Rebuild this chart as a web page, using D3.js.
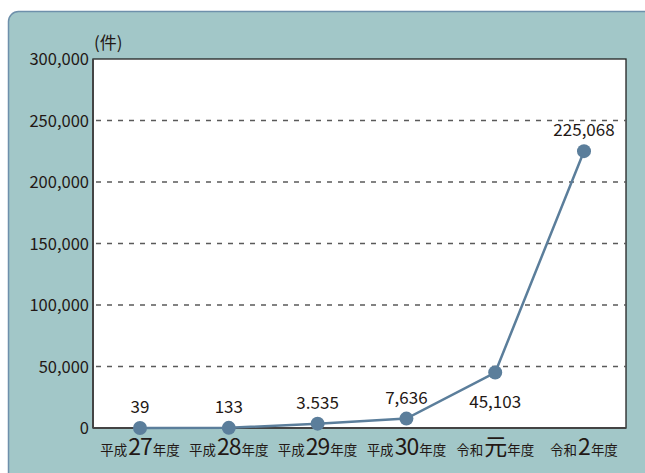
<!DOCTYPE html>
<html>
<head>
<meta charset="utf-8">
<script src="https://cdn.jsdelivr.net/npm/d3@7"></script>
<style>
  body { margin: 0; background: #fff; }
  svg { display: block; font-family: "Noto Sans CJK JP", "Noto Sans", sans-serif; }
</style>
</head>
<body>
<div id="chart"></div>
<script>
const eras = ['平成', '平成', '平成', '平成', '令和', '令和'];
const yearNums = ['27', '28', '29', '30', '元', '2'];
const counts = [39, 133, 3535, 7636, 45103, 225068];
const valueLabels = ['39', '133', '3.535', '7,636', '45,103', '225,068'];
const yTicks = [0, 50000, 100000, 150000, 200000, 250000, 300000];

const size = { width: 645, height: 473 };
const margin = { left: 93, top: 59, right: 19, bottom: 45 };

const svg = d3.select('#chart')
  .append('svg')
  .attr('width', size.width)
  .attr('height', size.height);

// background panel
svg.append('rect')
  .attr('x', 8.5).attr('y', 11.5)
  .attr('width', 660).attr('height', 500)
  .attr('rx', 10)
  .attr('fill', '#a2c7c8')
  .attr('stroke', '#6e90ab')
  .attr('stroke-width', 1.5);

const x = d3.scalePoint()
  .domain(d3.range(counts.length))
  .range([140, 584]);

const y = d3.scaleLinear()
  .domain([0, 300000])
  .range([size.height - margin.bottom, margin.top]);

const plotW = size.width - margin.left - margin.right;

// plot area
svg.append('rect')
  .attr('x', margin.left).attr('y', margin.top)
  .attr('width', plotW)
  .attr('height', y(0) - margin.top)
  .attr('fill', '#fff')
  .attr('stroke', '#222')
  .attr('stroke-width', 1.3);

// grid lines
svg.selectAll('.grid')
  .data(yTicks.filter((d) => d > 0 && d < 300000))
  .enter()
  .append('line')
  .attr('x1', margin.left + 3).attr('x2', margin.left + plotW)
  .attr('y1', (d) => y(d)).attr('y2', (d) => y(d))
  .attr('stroke', '#5a5a5a')
  .attr('stroke-width', 1.3)
  .attr('stroke-dasharray', '5,6');

// left & bottom axis lines (heavier gray)
svg.append('line')
  .attr('x1', margin.left).attr('x2', margin.left)
  .attr('y1', margin.top).attr('y2', y(0))
  .attr('stroke', '#444').attr('stroke-width', 2);
svg.append('line')
  .attr('x1', margin.left).attr('x2', margin.left + plotW)
  .attr('y1', y(0)).attr('y2', y(0))
  .attr('stroke', '#444').attr('stroke-width', 2);

// y tick labels
svg.selectAll('.ytick')
  .data(yTicks)
  .enter()
  .append('text')
  .attr('x', margin.left - 4)
  .attr('y', (d) => y(d) + 6)
  .attr('text-anchor', 'end')
  .attr('font-size', 16.5)
  .attr('fill', '#231815')
  .text((d) => d3.format(',')(d));

svg.append('text')
  .attr('x', 94).attr('y', 49)
  .attr('font-size', 17)
  .attr('fill', '#231815')
  .text('(件)');

// line
const line = d3.line()
  .x((d, i) => x(i))
  .y((d) => y(d));

svg.append('path')
  .datum(counts)
  .attr('d', line)
  .attr('fill', 'none')
  .attr('stroke', '#5b7e9b')
  .attr('stroke-width', 2.5);

svg.selectAll('.dot')
  .data(counts)
  .enter()
  .append('circle')
  .attr('cx', (d, i) => x(i))
  .attr('cy', (d) => y(d))
  .attr('r', 7)
  .attr('fill', '#5b7e9b');

// value labels
svg.selectAll('.val')
  .data(counts)
  .enter()
  .append('text')
  .attr('x', (d, i) => x(i))
  .attr('y', (d, i) => (i === 4 ? y(d) + 35 : y(d) - 15))
  .attr('text-anchor', 'middle')
  .attr('font-size', 17)
  .attr('fill', '#231815')
  .text((d, i) => valueLabels[i]);

// x labels
const xl = svg.selectAll('.xlab')
  .data(yearNums)
  .enter()
  .append('text')
  .attr('x', (d, i) => x(i))
  .attr('y', 455)
  .attr('text-anchor', 'middle')
  .attr('fill', '#231815');
xl.append('tspan').attr('font-size', 13.5).text((d, i) => eras[i]);
xl.append('tspan').attr('font-size', 23).attr('dx', 1).attr('letter-spacing', -1).text((d) => d);
xl.append('tspan').attr('font-size', 13.5).attr('dx', 1).text('年度');
</script>
</body>
</html>
